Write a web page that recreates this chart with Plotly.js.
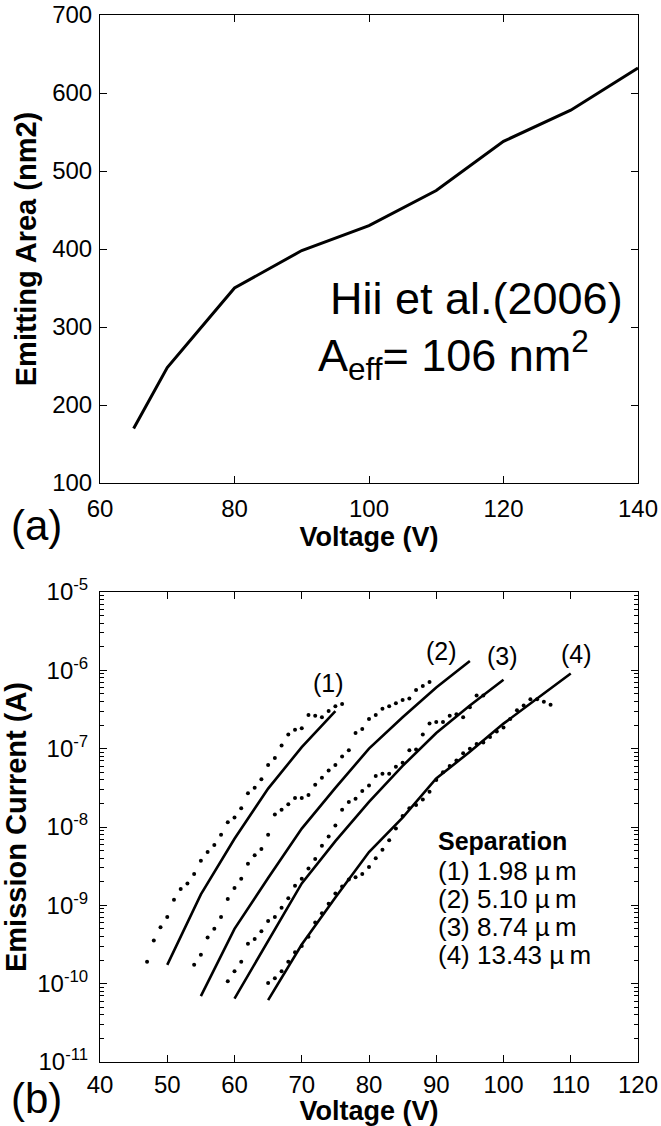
<!DOCTYPE html>
<html>
<head>
<meta charset="utf-8">
<script src="https://cdn.plot.ly/plotly-3.0.1.min.js"></script>
<style>html,body{margin:0;padding:0;background:#fff;}#chart{width:661px;height:1126px;}</style>
</head>
<body>
<div id="chart"></div>
<script>
// ---- Panel (a): emitting area vs voltage ----
const areaVoltage = [65, 70, 80, 90, 100, 110, 120, 130, 140];
const areaValues  = [170, 248, 350, 398, 430, 475, 538, 578, 632];

// ---- Panel (b): emission current (log10 of A) vs voltage ----
const fitV1 = [50, 55, 60, 65, 70, 75];
const fitLog1 = [-9.76, -8.86, -8.15, -7.51, -6.98, -6.52];
const fitV2 = [55, 60, 65, 70, 75, 80, 85, 90, 95];
const fitLog2 = [-10.16, -9.30, -8.65, -8.02, -7.50, -7.00, -6.60, -6.22, -5.88];
const fitV3 = [60, 65, 70, 75, 80, 85, 90, 95, 100];
const fitLog3 = [-10.19, -9.45, -8.72, -8.18, -7.68, -7.22, -6.80, -6.45, -6.12];
const fitV4 = [65, 70, 75, 80, 85, 90, 95, 100, 105, 110];
const fitLog4 = [-10.21, -9.50, -8.90, -8.32, -7.88, -7.38, -7.04, -6.68, -6.36, -6.04];

const dotV1 = [47,48,49,50,51,52,53,54,55,56,57,58,59,60,61,62,63,64,65,66,67,68,69,70,71,72,73,74,75,76];
const dotLog1 = [-9.72,-9.45,-9.28,-9.15,-8.93,-8.79,-8.72,-8.60,-8.43,-8.32,
                 -8.23,-8.10,-7.94,-7.88,-7.76,-7.57,-7.50,-7.39,-7.21,-7.12,
                 -6.96,-6.82,-6.76,-6.74,-6.57,-6.58,-6.60,-6.52,-6.46,-6.43];
const dotV2 = [54,55,56,57,58,59,60,61,62,63,64,65,66,67,68,69,70,71,72,73,74,75,76,77,78,79,80,81,82,83,84,85,86,87,88,89];
const dotLog2 = [-9.76,-9.63,-9.41,-9.30,-9.15,-8.92,-8.78,-8.66,-8.47,-8.36,
                 -8.28,-8.10,-7.84,-7.78,-7.71,-7.63,-7.63,-7.59,-7.46,-7.37,
                 -7.28,-7.21,-7.10,-7.02,-6.80,-6.75,-6.62,-6.57,-6.49,-6.46,
                 -6.42,-6.38,-6.36,-6.25,-6.20,-6.15];
const dotV3 = [59,60,61,62,63,64,65,66,67,68,69,70,71,72,73,74,75,76,77,78,79,80,81,82,83,84,85,86,87,88,89,90,91,92,93,94,95,96,97];
const dotLog3 = [-9.97,-9.84,-9.72,-9.49,-9.43,-9.33,-9.20,-9.15,-9.03,-8.91,
                 -8.75,-8.66,-8.53,-8.41,-8.24,-8.12,-7.98,-7.78,-7.68,-7.64,
                 -7.54,-7.47,-7.35,-7.32,-7.32,-7.23,-7.18,-7.02,-7.01,-6.82,
                 -6.68,-6.66,-6.66,-6.58,-6.56,-6.60,-6.47,-6.32,-6.32];
const dotV4 = [65,66,67,68,69,70,71,72,73,74,75,76,77,78,79,80,81,82,83,84,85,86,87,88,89,90,91,92,93,94,95,96,97,98,99,100,101,102,103,104,105,106,107];
const dotLog4 = [-9.99,-9.93,-9.84,-9.72,-9.60,-9.52,-9.40,-9.22,-9.10,-8.98,
                 -8.85,-8.76,-8.67,-8.64,-8.60,-8.51,-8.40,-8.29,-8.17,-8.02,
                 -7.86,-7.76,-7.72,-7.65,-7.55,-7.40,-7.30,-7.22,-7.15,-7.06,
                 -7.00,-6.94,-6.92,-6.85,-6.78,-6.73,-6.62,-6.51,-6.45,-6.37,
                 -6.37,-6.40,-6.44];

const logTickVals = [1e-11, 1e-10, 1e-9, 1e-8, 1e-7, 1e-6, 1e-5];
const logTickText = ['10<sup>-11</sup>','10<sup>-10</sup>','10<sup>-9</sup>','10<sup>-8</sup>','10<sup>-7</sup>','10<sup>-6</sup>','10<sup>-5</sup>'];
const curveLabels = ['(1)', '(2)', '(3)', '(4)'];
const separations = ['1.98', '5.10', '8.74', '13.43'];

const toA = arr => arr.map(v => Math.pow(10, v));
const FONT = 'Liberation Sans, Arial, Helvetica, sans-serif';

// minor tick positions for the log axis (2..9 in each decade)
const minorVals = [];
for (let e = -11; e < -5; e++) for (let m = 2; m <= 9; m++) minorVals.push(m * Math.pow(10, e));

const traces = [];
traces.push({x: areaVoltage, y: areaValues, xaxis: 'x', yaxis: 'y', mode: 'lines',
  line: {color: '#000', width: 3}, showlegend: false, hoverinfo: 'skip'});

const fits = [[fitV1, fitLog1], [fitV2, fitLog2], [fitV3, fitLog3], [fitV4, fitLog4]];
const dots = [[dotV1, dotLog1], [dotV2, dotLog2], [dotV3, dotLog3], [dotV4, dotLog4]];
dots.forEach(d => traces.push({x: d[0], y: toA(d[1]), xaxis: 'x2', yaxis: 'y2', mode: 'markers',
  marker: {color: '#000', size: 4}, showlegend: false, hoverinfo: 'skip'}));
fits.forEach(f => traces.push({x: f[0], y: toA(f[1]), xaxis: 'x2', yaxis: 'y2', mode: 'lines',
  line: {color: '#000', width: 2.6}, showlegend: false, hoverinfo: 'skip'}));

const tickFont = {family: FONT, size: 24, color: '#000'};
const titleFont = {family: FONT, size: 29, color: '#000', weight: 'bold'};
const xTitleFont = {family: FONT, size: 27, color: '#000', weight: 'bold'};

const axisCommon = {showline: true, linecolor: '#000', linewidth: 1, mirror: 'ticks',
  ticks: 'inside', ticklen: 7, tickcolor: '#000', tickwidth: 1, showgrid: false,
  zeroline: false, tickfont: tickFont};

const annotations = [];
annotations.push({xref: 'paper', yref: 'paper', x: -0.17, y: 0.512, xanchor: 'left', yanchor: 'middle',
  text: '(a)', showarrow: false, font: {family: FONT, size: 42, color: '#000'}});
annotations.push({xref: 'paper', yref: 'paper', x: -0.17, y: -0.035, xanchor: 'left', yanchor: 'middle',
  text: '(b)', showarrow: false, font: {family: FONT, size: 42, color: '#000'}});
annotations.push({xref: 'x', yref: 'y', x: 116, y: 336, xanchor: 'center', yanchor: 'middle',
  text: 'Hii et al.(2006)', showarrow: false, font: {family: FONT, size: 45, color: '#000'}});
annotations.push({xref: 'x', yref: 'y', x: 112.5, y: 264, xanchor: 'center', yanchor: 'middle',
  text: 'A<sub>eff</sub>= 106 nm<sup>2</sup>', showarrow: false, font: {family: FONT, size: 45, color: '#000'}});

const labelPos = [[74.0, -6.16], [90.85, -5.75], [99.9, -5.82], [110.9, -5.79]];
curveLabels.forEach((t, i) => annotations.push({xref: 'x2', yref: 'y2', x: labelPos[i][0], y: labelPos[i][1],
  text: t, showarrow: false, xanchor: 'center', yanchor: 'middle', font: {family: FONT, size: 25, color: '#000'}}));

annotations.push({xref: 'x2', yref: 'y2', x: 89.9, y: -8.18, xanchor: 'left', yanchor: 'middle',
  text: '<b>Separation</b>', showarrow: false, font: {family: FONT, size: 25, color: '#000'}});
separations.forEach((s, i) => annotations.push({xref: 'x2', yref: 'y2', x: 89.9, y: -8.563 - i * 0.3576,
  xanchor: 'left', yanchor: 'middle', text: curveLabels[i] + ' ' + s + ' \u00b5\u2009m', showarrow: false,
  font: {family: FONT, size: 26, color: '#000'}}));

const layout = {
  width: 661, height: 1126,
  margin: {l: 100, r: 23, t: 15, b: 64},
  paper_bgcolor: '#fff', plot_bgcolor: '#fff',
  showlegend: false,
  xaxis: Object.assign({}, axisCommon, {domain: [0, 1], range: [60, 140], dtick: 20, tick0: 60,
    anchor: 'y', ticklabelstandoff: 4,
    title: {text: '<b>Voltage (V)</b>', font: xTitleFont, standoff: 2}}),
  yaxis: Object.assign({}, axisCommon, {domain: [0.553, 1], range: [100, 700], dtick: 100, tick0: 100,
    anchor: 'x', ticklabelstandoff: 2,
    title: {text: '<b>Emitting Area (nm2)</b>', font: titleFont, standoff: 6}}),
  xaxis2: Object.assign({}, axisCommon, {domain: [0, 1], range: [40, 120], dtick: 10, tick0: 40,
    anchor: 'y2', ticklabelstandoff: 1,
    title: {text: '<b>Voltage (V)</b>', font: xTitleFont, standoff: 0}}),
  yaxis2: Object.assign({}, axisCommon, {domain: [0, 0.4489], type: 'log', range: [-11, -5],
    anchor: 'x2', tickmode: 'array', tickvals: logTickVals, ticktext: logTickText, ticklabelstandoff: 6,
    minor: {ticks: 'inside', ticklen: 4, tickcolor: '#000', tickmode: 'array', tickvals: minorVals, showgrid: false},
    title: {text: '<b>Emission Current (A)</b>', font: titleFont, standoff: 3}}),
  annotations: annotations
};

Plotly.newPlot('chart', traces, layout, {staticPlot: true, displayModeBar: false});
</script>
</body>
</html>
